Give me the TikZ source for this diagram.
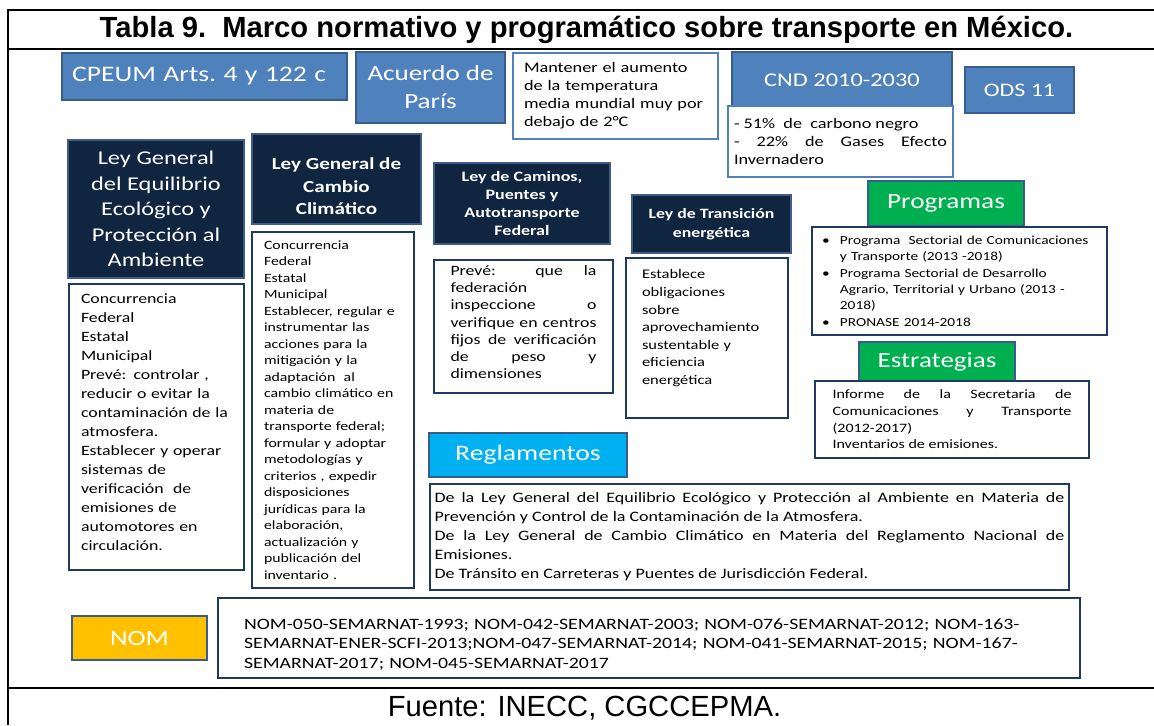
\documentclass[tikz,border=0pt]{standalone}
\usepackage{fontspec}
\setmainfont{Carlito}[FakeStretch=1.25]
\newfontfamily\arialfont{Liberation Sans}
\newcommand{\fs}[2]{\fontsize{#1pt}{#2pt}\selectfont}
\newcommand{\dropby}[1]{\rule[-#1]{0pt}{#1}}
\newcommand{\itm}{\par\noindent\hangindent=10.2pt\hangafter=1\makebox[10.2pt][l]{\textbullet}}
\hyphenpenalty=10000
\exhyphenpenalty=10000
\definecolor{midblue}{HTML}{4F81BD}
\definecolor{edgeblue}{HTML}{385D8A}
\definecolor{navy}{HTML}{10253F}
\definecolor{lawedge}{HTML}{3E5C86}
\definecolor{darkedge}{HTML}{1F3A60}
\definecolor{progreen}{HTML}{00B050}
\definecolor{skyblue}{HTML}{00B0F0}
\definecolor{nomyellow}{HTML}{FFC000}

\begin{document}
\begin{tikzpicture}[x=0.02cm, y=-0.02cm,
    every node/.style={inner sep=0pt},
    headbox/.style={draw=edgeblue, line width=1.3pt, fill=midblue, text=white, align=center},
    lawbox/.style={draw=lawedge, line width=1.3pt, fill=navy, text=white, align=center},
    tagbox/.style={draw=edgeblue, line width=1.3pt, text=white, align=center},
    txtbox/.style={draw=darkedge, line width=1.4pt, fill=white},
    lightbox/.style={draw=midblue, line width=1.4pt, fill=white}]
    \useasboundingbox (0,0) rectangle (1154,725);
    \draw[line width=1.2pt] (8,725) |- (1154,10);
    \draw[line width=1.2pt] (8,49) -- (1154,49);
    \draw[line width=1.2pt] (8,688) -- (1154,688);
    \node[anchor=base, font=\arialfont\bfseries\fs{16.6}{20}] (title) at (586.5,37) {Tabla 9.\ \ Marco normativo y programático sobre transporte en México.};
    \node[anchor=base, font=\arialfont\fs{16.6}{20}] (source) at (584.5,716) {Fuente: INECC, CGCCEPMA.};

    \node[headbox, minimum width=5.70cm, minimum height=0.94cm, text width=5.30cm, align=left, font=\fs{12.6}{15}] (cpeum) at (204.5,76.5) {CPEUM Arts.\ 4 y 122 c};
    \node[headbox, minimum width=2.98cm, minimum height=1.42cm, font=\fs{12.3}{15.9}] (paris) at (430.5,87.5) {Acuerdo de\\París};
    \node[lightbox, minimum width=4.10cm, minimum height=1.72cm, text width=3.66cm, align=left, font=\fs{8.3}{10.2}] (goal) at (615.5,96) {Mantener el aumento\\de la temperatura\\media mundial muy por\\debajo de 2°C};
    \node[headbox, minimum width=4.40cm, minimum height=1.12cm, font=\fs{11.1}{13}] (cnd) at (842,80) {CND 2010-2030};
    \node[lightbox, minimum width=4.50cm, minimum height=1.42cm, text width=4.26cm, align=justify, font=\fs{8.3}{10.5}] (cndgoal) at (840.5,141.5) {- 51\%\ \ de\ \ carbono negro\\- 22\% de Gases Efecto Invernadero};
    \node[headbox, minimum width=2.18cm, minimum height=0.92cm, font=\fs{10.9}{13}] (ods) at (1019.5,90) {ODS 11};

    \node[lawbox, minimum width=3.52cm, minimum height=2.76cm, font=\fs{11.1}{14.5}] (lgeepa) at (156,209) {Ley General\\del Equilibrio\\Ecológico y\\Protección al\\Ambiente};
    \node[txtbox, minimum width=3.50cm, minimum height=5.72cm, text width=3.02cm, align=left, font=\fs{8.1}{10.8}] (lgeepanote) at (156.5,427) {Concurrencia\\Federal\\Estatal\\Municipal\\Prevé: controlar ,\\reducir o evitar la\\contaminación de la\\atmosfera.\\Establecer y operar\\sistemas de\\verificación\ \ de\\emisiones de\\automotores en\\circulación.\dropby{5.7pt}};
    \node[lawbox, minimum width=3.38cm, minimum height=1.80cm, font=\bfseries\fs{9.6}{13}] (lgcc) at (336.5,179) {\rule{0pt}{15pt}Ley General de\\Cambio\\Climático};
    \node[txtbox, minimum width=3.24cm, minimum height=7.12cm, text width=2.76cm, align=left, font=\fs{7.2}{9.4}] (lgccnote) at (333,410) {Concurrencia\\Federal\\Estatal\\Municipal\\Establecer, regular e\\instrumentar las\\acciones para la\\mitigación y la\\adaptación\ \ al\\cambio climático en\\materia de\\transporte federal;\\formular y adoptar\\metodologías y\\criterios , expedir\\disposiciones\\jurídicas para la\\elaboración,\\actualización y\\publicación del\\inventario .};
    \node[lawbox, minimum width=3.52cm, minimum height=1.62cm, font=\bfseries\fs{8.2}{10.4}] (lcpaf) at (522,203.5) {Ley de Caminos,\\Puentes y\\Autotransporte\\Federal};
    \node[txtbox, minimum width=3.58cm, minimum height=2.66cm, text width=2.92cm, align=justify, font=\fs{8.1}{9.8}] (lcpafnote) at (523.5,326.5) {Prevé: que la\linebreak federación\\inspeccione o\linebreak verifique en centros\linebreak fijos de verificación\linebreak de peso y\linebreak dimensiones\dropby{5pt}};
    \node[lawbox, minimum width=3.18cm, minimum height=1.16cm, font=\bfseries\fs{8.1}{10.8}] (lte) at (711.5,224) {Ley de Transición\\energética};
    \node[txtbox, minimum width=3.24cm, minimum height=3.20cm, text width=2.60cm, align=left, font=\fs{7.5}{10}] (ltenote) at (707,338) {Establece\\obligaciones\\sobre\\aprovechamiento\\sustentable y\\eficiencia\\energética\dropby{12.5pt}};

    \node[tagbox, fill=progreen, minimum width=3.12cm, minimum height=0.90cm, font=\fs{12.4}{15}] (prog) at (946,203.5) {Programas};
    \node[txtbox, minimum width=5.90cm, minimum height=2.16cm, text width=5.50cm, align=left, font=\fs{7.0}{9.3}] (prognote) at (959.5,281) {\itm Programa\ \ Sectorial de Comunicaciones\newline y Transporte (2013 -2018)\itm Programa Sectorial de Desarrollo\newline Agrario, Territorial y Urbano (2013 -\newline 2018)\itm PRONASE 2014-2018\dropby{4.5pt}};
    \node[tagbox, fill=progreen, minimum width=3.12cm, minimum height=0.78cm, font=\fs{12.3}{15}] (strat) at (937,361.5) {Estrategias};
    \node[txtbox, minimum width=5.48cm, minimum height=1.54cm, text width=4.78cm, align=justify, font=\fs{7.3}{9.5}] (stratnote) at (952,419.5) {Informe de la Secretaria de\linebreak Comunicaciones y Transporte\linebreak (2012-2017)\\Inventarios de emisiones.};
    \node[tagbox, fill=skyblue, minimum width=3.96cm, minimum height=0.88cm, font=\fs{12.6}{15}] (regl) at (528,455) {Reglamentos};
    \node[txtbox, minimum width=12.78cm, minimum height=2.12cm, text width=12.6cm, align=justify, font=\fs{8.2}{10.8}] (reglnote) at (749.5,537) {De la Ley General del Equilibrio Ecológico y Protección al Ambiente en Materia de\linebreak Prevención y Control de la Contaminación de la Atmosfera.\\De la Ley General de Cambio Climático en Materia del Reglamento Nacional de\linebreak Emisiones.\\De Tránsito en Carreteras y Puentes de Jurisdicción Federal.};
    \node[tagbox, fill=nomyellow, minimum width=2.70cm, minimum height=0.88cm, font=\fs{12.4}{15}] (nom) at (139.5,638) {NOM};
    \node[txtbox, minimum width=17.24cm, minimum height=1.60cm, text width=16.2cm, align=left, font=\fs{9.0}{11}] (nomnote) at (649,638) {\rule{0pt}{13.5pt}NOM-050-SEMARNAT-1993; NOM-042-SEMARNAT-2003; NOM-076-SEMARNAT-2012; NOM-163-\\SEMARNAT-ENER-SCFI-2013;NOM-047-SEMARNAT-2014; NOM-041-SEMARNAT-2015; NOM-167-\\SEMARNAT-2017; NOM-045-SEMARNAT-2017};
\end{tikzpicture}
\end{document}
